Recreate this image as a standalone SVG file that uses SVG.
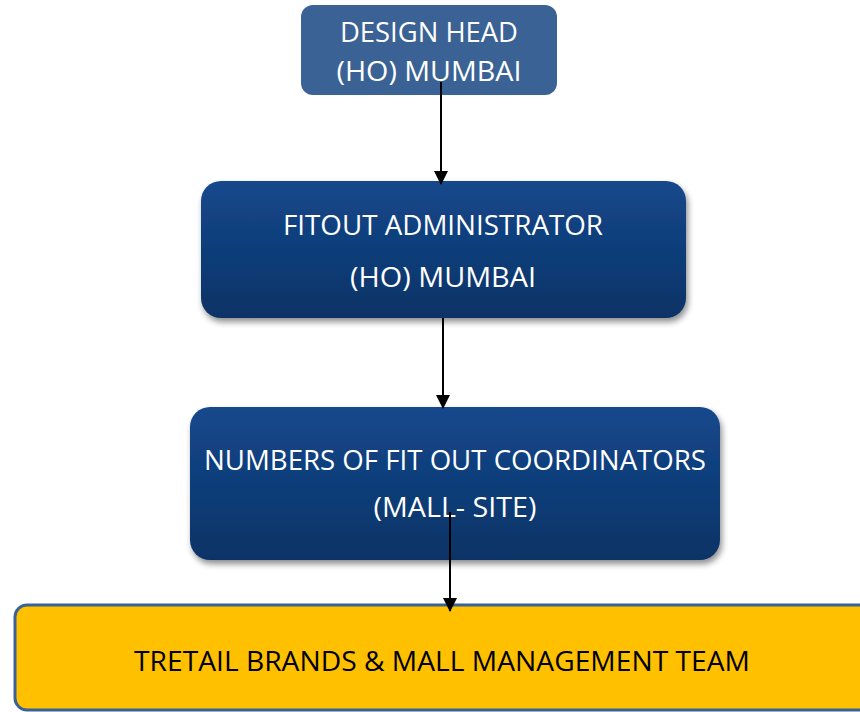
<svg xmlns="http://www.w3.org/2000/svg" width="860" height="712" viewBox="0 0 860 712">
<style>
.t{font-family:"Open Sans","Liberation Sans",sans-serif;font-size:27px;fill:#ffffff;text-anchor:middle}
.k{fill:#000000}
.c{stroke:#000;stroke-width:2;fill:none;marker-end:url(#ah)}
</style>
<defs>
<linearGradient id="g" x1="0" y1="0" x2="0" y2="1">
<stop offset="0" stop-color="#14488C"/>
<stop offset="1" stop-color="#0C3366"/>
</linearGradient>
<filter id="sh" x="-5%" y="-10%" width="112%" height="130%">
<feGaussianBlur in="SourceAlpha" stdDeviation="3"/>
<feOffset dx="2" dy="4" result="b"/>
<feComponentTransfer><feFuncA type="linear" slope="0.45"/></feComponentTransfer>
<feMerge><feMergeNode/><feMergeNode in="SourceGraphic"/></feMerge>
</filter>
<marker id="ah" markerWidth="14" markerHeight="14" refX="13" refY="7" orient="auto" markerUnits="userSpaceOnUse">
<path d="M0,0 L14,7 L0,14 Z" fill="#000"/>
</marker>
</defs>
<g id="n1">
<rect x="301" y="5" width="256" height="90" rx="12" fill="#3A6295"/>
<text class="t" x="429" y="42" textLength="178" lengthAdjust="spacingAndGlyphs">DESIGN HEAD</text>
<text class="t" x="429" y="81" textLength="185" lengthAdjust="spacingAndGlyphs">(HO) MUMBAI</text>
</g>
<g id="n2">
<rect x="201" y="181" width="485" height="137" rx="20" fill="url(#g)" filter="url(#sh)"/>
<text class="t" x="443" y="235" textLength="320" lengthAdjust="spacingAndGlyphs">FITOUT ADMINISTRATOR</text>
<text class="t" x="443" y="287" textLength="186" lengthAdjust="spacingAndGlyphs">(HO) MUMBAI</text>
</g>
<g id="n3">
<rect x="190" y="407" width="530" height="153" rx="20" fill="url(#g)" filter="url(#sh)"/>
<text class="t" x="455" y="470" textLength="502" lengthAdjust="spacingAndGlyphs">NUMBERS OF FIT OUT COORDINATORS</text>
<text class="t" x="455" y="517" textLength="163" lengthAdjust="spacingAndGlyphs">(MALL- SITE)</text>
</g>
<g id="n4">
<rect x="15" y="605" width="860" height="105" rx="12" fill="#FFC000" stroke="#3A6295" stroke-width="3"/>
<text class="t k" x="442" y="671" textLength="616" lengthAdjust="spacingAndGlyphs">TRETAIL BRANDS &amp; MALL MANAGEMENT TEAM</text>
</g>
<g id="connectors">
<line class="c" x1="441" y1="82" x2="441" y2="184"/>
<line class="c" x1="443" y1="318" x2="443" y2="408"/>
<line class="c" x1="450" y1="512" x2="450" y2="611"/>
</g>
</svg>
